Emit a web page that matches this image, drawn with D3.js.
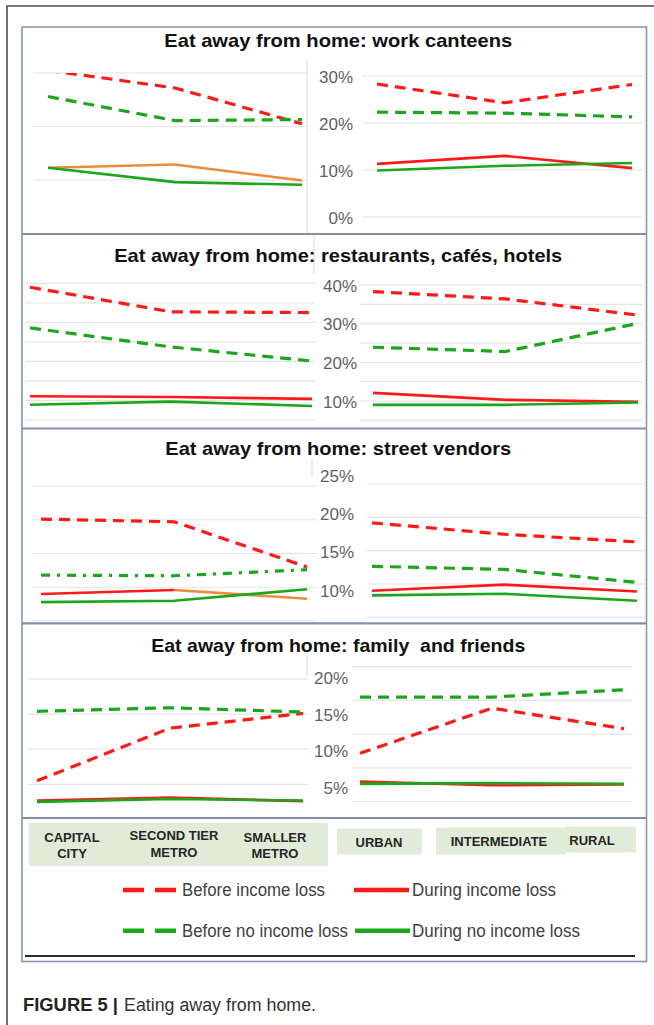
<!DOCTYPE html>
<html><head><meta charset="utf-8">
<script src="https://cdn.jsdelivr.net/npm/d3@7"></script>
<style>html,body{margin:0;padding:0;background:#fff;}svg{display:block;}</style>
</head><body>
<svg id="chart" width="654" height="1025"></svg>
<script>
// ---------------- DATA ----------------
const metroCategories = ["CAPITAL CITY", "SECOND TIER METRO", "SMALLER METRO"];
const urbanCategories = ["URBAN", "INTERMEDIATE", "RURAL"];
const seriesNames = ["Before income loss", "During income loss", "Before no income loss", "During no income loss"];
const panelTitles = [
  "Eat away from home: work canteens",
  "Eat away from home: restaurants, cafés, hotels",
  "Eat away from home: street vendors",
  "Eat away from home: family  and friends"
];
// values in %, series order = seriesNames
const canteensMetro = [[30.5, 27.2, 20.5], [12.3, 12.9, 9.9], [25.6, 21.1, 21.3], [12.3, 9.6, 9.1]];
const canteensUrban = [[28.3, 24.3, 28.2], [11.3, 13.0, 10.4], [22.3, 22.1, 21.3], [9.9, 10.9, 11.5]];
const restaurantsMetro = [[39.0, 32.7, 32.5], [11.1, 10.9, 10.4], [28.6, 23.7, 20.1], [8.9, 9.7, 8.6]];
const restaurantsUrban = [[38.3, 36.4, 32.2], [12.1, 10.3, 9.8], [23.9, 22.8, 30.1], [9.0, 9.0, 9.6]];
const vendorsMetro = [[20.1, 19.7, 13.0], [9.0, 9.6, 8.3], [11.8, 11.7, 12.6], [7.8, 8.0, 9.7]];
const vendorsUrban = [[18.8, 17.3, 16.3], [9.9, 10.7, 9.8], [13.1, 12.7, 11.0], [9.3, 9.5, 8.6]];
const familyMetro = [[5.5, 13.0, 15.1], [2.7, 3.1, 2.6], [15.4, 15.9, 15.3], [2.5, 2.9, 2.7]];
const familyUrban = [[9.65, 15.8, 13.0], [5.8, 5.3, 5.4], [17.3, 17.3, 18.3], [5.5, 5.6, 5.5]];
// tick labels (%)
const canteensTicks = [0, 10, 20, 30];
const restaurantsTicks = [10, 20, 30, 40];
const vendorsTicks = [5, 10, 15, 20, 25];
const familyTicks = [5, 10, 15, 20];
// gridline values (%)
const canteensGridMetro = [30, 20, 10];
const canteensGridUrban = [30, 20, 10, 0];
const restaurantsGrid = [40, 35, 30, 25, 20, 15, 10, 5];
const vendorsGrid = [25, 20, 15, 10, 5];
const familyGridMetro = [20, 15, 10, 5];
const familyGridUrban = [20, 15, 10, 5, 0];

// ---------------- STYLE / LAYOUT ----------------
const RED = "#ff1a1a", GREEN = "#1ba61b", ORANGE = "#ee8a3c";
const seriesStyle = [
  {color: RED, dash: "11,7", width: 3.2},
  {color: RED, dash: null, width: 2.6},
  {color: GREEN, dash: "11,7", width: 3.2},
  {color: GREEN, dash: null, width: 2.6}
];
const BOX = {x0: 22, x1: 646.5};
const panels = [
  {title: panelTitles[0], y0: 27, y1: 234, titleY: 47, titleLen: 348,
   left: {data: canteensMetro, xr: [48, 302], yd: [30, 10], yr: [73, 180], grid: canteensGridMetro, gx: [33, 307],
          clipTop: 73, vline: [307, 60, 233], override: {1: {segColors: [ORANGE, ORANGE]}}},
   right: {data: canteensUrban, xr: [377, 632], yd: [30, 0], yr: [76, 217], grid: canteensGridUrban, gx: [362, 643],
           ticks: canteensTicks, labelX: 353}},
  {title: panelTitles[1], y0: 234, y1: 428.5, titleY: 262, titleLen: 448,
   left: {data: restaurantsMetro, xr: [30, 312], yd: [40, 5], yr: [283.3, 420], grid: restaurantsGrid, gx: [25, 315],
          vline: [314, 234, 273]},
   right: {data: restaurantsUrban, xr: [373, 638], yd: [40, 10], yr: [285, 401], grid: restaurantsGrid, gx: [360, 643],
           ticks: restaurantsTicks, labelX: 357}},
  {title: panelTitles[2], y0: 428.5, y1: 623.3, titleY: 455, titleLen: 346,
   left: {data: vendorsMetro, xr: [41, 307], yd: [25, 5], yr: [486, 621], grid: vendorsGrid, gx: [32, 317],
          vline: [312, 460, 478], override: {1: {segColors: [RED, ORANGE]}, 2: {dash: "9,7,3,7"}}},
   right: {data: vendorsUrban, xr: [372, 637], yd: [25, 10], yr: [475.5, 590], grid: vendorsGrid, gx: [367, 645],
           gridScale: {d: [25, 5], r: [484, 617.3]}, ticks: vendorsTicks, labelX: 354}},
  {title: panelTitles[3], y0: 623.3, y1: 818, titleY: 652, titleLen: 374,
   left: {data: familyMetro, xr: [37, 303], yd: [20, 5], yr: [679, 784.3], grid: familyGridMetro, gx: [28, 308],
          vline: [307, 650, 676]},
   right: {data: familyUrban, xr: [360, 624], yd: [20, 5], yr: [677.25, 787.5], grid: familyGridUrban, gx: [352, 632],
           gridScale: {d: [20, 0], r: [666.7, 801.7]}, ticks: familyTicks, labelX: 348}}
];

const svg = d3.select("#chart");
const defs = svg.append("defs");

// outer frame
svg.append("path").attr("d", "M7,1025 V6 H654").attr("fill", "none").attr("stroke", "#4d4d4d").attr("stroke-width", 1.6);

panels.forEach((p, pi) => {
  const cid = "clip" + pi;
  defs.append("clipPath").attr("id", cid).append("rect")
    .attr("x", BOX.x0).attr("y", p.y0).attr("width", BOX.x1 - BOX.x0).attr("height", p.y1 - p.y0);
  const g = svg.append("g").attr("clip-path", `url(#${cid})`);

  [["left", metroCategories], ["right", urbanCategories]].forEach(([side, cats]) => {
    const s = p[side];
    const x = d3.scalePoint().domain(cats).range(s.xr);
    const y = d3.scaleLinear().domain(s.yd).range(s.yr);
    const gy = s.gridScale ? d3.scaleLinear().domain(s.gridScale.d).range(s.gridScale.r) : y;
    // gridlines
    g.append("g").selectAll("line").data(s.grid).join("line")
      .attr("x1", s.gx[0]).attr("x2", s.gx[1])
      .attr("y1", d => gy(d)).attr("y2", d => gy(d))
      .attr("stroke", "#e4e4e4").attr("stroke-width", 1.2);
    if (s.vline) {
      g.append("line").attr("x1", s.vline[0]).attr("x2", s.vline[0]).attr("y1", s.vline[1]).attr("y2", s.vline[2])
        .attr("stroke", "#e0e0e0").attr("stroke-width", 1.2);
    }
    // tick labels via axis
    if (s.ticks) {
      const ax = d3.axisLeft(y).tickValues(s.ticks).tickFormat(d => d + "%").tickSize(0).tickPadding(0);
      const ag = g.append("g").attr("transform", `translate(${s.labelX},0)`).call(ax);
      ag.select(".domain").remove();
      ag.selectAll("text").attr("font-family", "Liberation Sans, Arial, sans-serif")
        .attr("font-size", 17).attr("fill", "#5f5f5f").attr("dy", "0.36em");
    }
    // series
    let lg = g;
    if (s.clipTop !== undefined) {
      const sc = "sclip" + pi + side;
      defs.append("clipPath").attr("id", sc).append("rect")
        .attr("x", BOX.x0).attr("y", s.clipTop).attr("width", 320).attr("height", p.y1 - s.clipTop);
      lg = g.append("g").attr("clip-path", `url(#${sc})`);
    }
    const line = d3.line().x(d => x(d[0])).y(d => y(d[1]));
    s.data.forEach((vals, si) => {
      const st = Object.assign({}, seriesStyle[si], (s.override || {})[si] || {});
      const pts = vals.map((v, i) => [cats[i], v]);
      if (st.segColors) {
        for (let k = 0; k < pts.length - 1; k++) {
          lg.append("path").attr("d", line([pts[k], pts[k + 1]])).attr("fill", "none")
            .attr("stroke", st.segColors[k]).attr("stroke-width", st.width).attr("stroke-linejoin", "round");
        }
      } else {
        lg.append("path").attr("d", line(pts)).attr("fill", "none")
          .attr("stroke", st.color).attr("stroke-width", st.width)
          .attr("stroke-dasharray", st.dash).attr("stroke-linejoin", "round");
      }
    });
  });

  // title
  svg.append("text").attr("x", (BOX.x0 + BOX.x1) / 2 + 4).attr("y", p.titleY)
    .attr("text-anchor", "middle").attr("font-family", "Liberation Sans, Arial, sans-serif")
    .attr("font-weight", "bold").attr("font-size", 19).attr("fill", "#111")
    .style("white-space", "pre")
    .attr("textLength", p.titleLen).attr("lengthAdjust", "spacingAndGlyphs")
    .text(p.title);
});

// inner box and separators
svg.append("rect").attr("x", BOX.x0).attr("y", 27).attr("width", BOX.x1 - BOX.x0).attr("height", 961.5 - 27)
  .attr("fill", "none").attr("stroke", "#8797ae").attr("stroke-width", 1.6);
[234, 428.5, 623.3, 818].forEach(yy => {
  svg.append("line").attr("x1", BOX.x0).attr("x2", BOX.x1).attr("y1", yy).attr("y2", yy)
    .attr("stroke", "#7f90a8").attr("stroke-width", 2.2);
});
svg.append("line").attr("x1", 25).attr("x2", 635).attr("y1", 956).attr("y2", 956)
  .attr("stroke", "#2a2a2a").attr("stroke-width", 2);

// category label boxes
const catBoxes = [
  {x: 29, y: 823, w: 299, h: 43},
  {x: 337, y: 828.5, w: 85, h: 26},
  {x: 436, y: 827.5, w: 130, h: 27},
  {x: 565, y: 826.5, w: 71, h: 26}
];
svg.append("g").selectAll("rect").data(catBoxes).join("rect")
  .attr("x", d => d.x).attr("y", d => d.y).attr("width", d => d.w).attr("height", d => d.h)
  .attr("fill", "#e1ecd8");
const metroLabelPos = [72, 174, 275];
const urbanLabelPos = [[379, 847.4], [499, 845.7], [592, 844.7]];
const metroLabelY = [[841.7, 857.7], [839.7, 857.4], [841.7, 857.7]];
const catG = svg.append("g").attr("font-family", "Liberation Sans, Arial, sans-serif")
  .attr("font-weight", "bold").attr("font-size", 13).attr("fill", "#262626").attr("text-anchor", "middle");
metroCategories.forEach((c, i) => {
  const k = c.lastIndexOf(" ");
  [c.slice(0, k), c.slice(k + 1)].forEach((ln, j) => {
    catG.append("text").attr("x", metroLabelPos[i]).attr("y", metroLabelY[i][j]).text(ln);
  });
});
urbanCategories.forEach((c, i) => {
  catG.append("text").attr("x", urbanLabelPos[i][0]).attr("y", urbanLabelPos[i][1]).text(c);
});

// legend
const legendPos = [
  {lx: [123, 176], ty: 890, tx: 182, len: 143, dash: "21,11"},
  {lx: [354, 409], ty: 890, tx: 412, len: 144, dash: null},
  {lx: [123, 176], ty: 930.7, tx: 182, len: 166, dash: "21,11"},
  {lx: [355, 410], ty: 930.7, tx: 412, len: 168, dash: null}
];
seriesNames.forEach((name, i) => {
  const lp = legendPos[i], st = seriesStyle[i];
  svg.append("line").attr("x1", lp.lx[0]).attr("x2", lp.lx[1]).attr("y1", lp.ty).attr("y2", lp.ty)
    .attr("stroke", st.color).attr("stroke-width", 4.5).attr("stroke-dasharray", lp.dash);
  svg.append("text").attr("x", lp.tx).attr("y", lp.ty + 6.3)
    .attr("font-family", "Liberation Sans, Arial, sans-serif").attr("font-size", 17.5).attr("fill", "#404040")
    .attr("textLength", lp.len).attr("lengthAdjust", "spacingAndGlyphs").text(name);
});

// caption
const cap = svg.append("g").attr("font-family", "Liberation Sans, Arial, sans-serif").attr("font-size", 18);
cap.append("text").attr("x", 23).attr("y", 1011).attr("font-weight", "bold").attr("fill", "#222")
  .attr("textLength", 95).attr("lengthAdjust", "spacingAndGlyphs").text("FIGURE 5 |");
cap.append("text").attr("x", 124).attr("y", 1011).attr("fill", "#333")
  .attr("textLength", 192).attr("lengthAdjust", "spacingAndGlyphs").text("Eating away from home.");
</script>
</body></html>
